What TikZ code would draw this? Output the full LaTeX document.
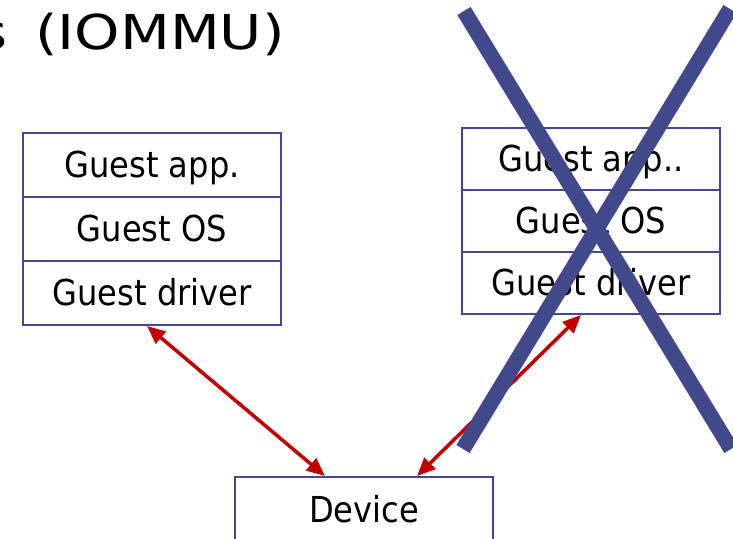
\documentclass[tikz,border=0pt]{standalone}
\usepackage{fontspec}
\setmainfont{DejaVu Sans}
\newfontfamily\titlefont[FakeStretch=1.2]{DejaVu Sans}
\newfontfamily\layerfont[FakeStretch=0.9]{DejaVu Sans}
\usetikzlibrary{arrows.meta}
\definecolor{boxblue}{RGB}{70,70,150}
\definecolor{crossblue}{RGB}{66,72,140}
\definecolor{linkred}{RGB}{192,0,0}
\tikzset{
    layer/.style={draw=boxblue, line width=1.4pt, inner sep=0pt, minimum width=6.45cm,
        text height=18pt, text depth=0pt, font=\layerfont\fontsize{25.4}{30}\selectfont},
    link/.style={linkred, line width=2.5pt, {Triangle[length=13pt,width=11pt]}-{Triangle[length=13pt,width=11pt]}},
    cross/.style={crossblue, line width=11pt}
}
\begin{document}
\begin{tikzpicture}[x=0.025cm, y=-0.025cm]
        \useasboundingbox (0,0) rectangle (733,539);
        \node[anchor=base east, inner sep=0pt, font=\titlefont\fontsize{34.2}{40}\selectfont] (title) at (285,50) {s\hspace{0.25cm} (IOMMU)};
        \foreach \t [count=\i] in {Guest app.,Guest OS,Guest driver}
            \node[layer, minimum height=1.6cm] (l\i) at (152,101+64*\i) {\t};
        \foreach \t [count=\i] in {Guest app..,Guest OS,Guest driver}
            \node[layer, minimum height=1.55cm] (r\i) at (591,97+62*\i) {\t};
        \node[layer, minimum height=1.65cm] (dev) at (364,510) {Device};
        \draw[link] ([xshift=-0.125cm]l3.south) -- ([xshift=-0.975cm]dev.north);
        \draw[link] ([xshift=1.325cm]dev.north) -- ([xshift=-0.25cm]r3.south);
        \draw[cross] (464,11) -- (731,449);
        \draw[cross] (730,9) -- (463,449);
    \end{tikzpicture}
\end{document}
